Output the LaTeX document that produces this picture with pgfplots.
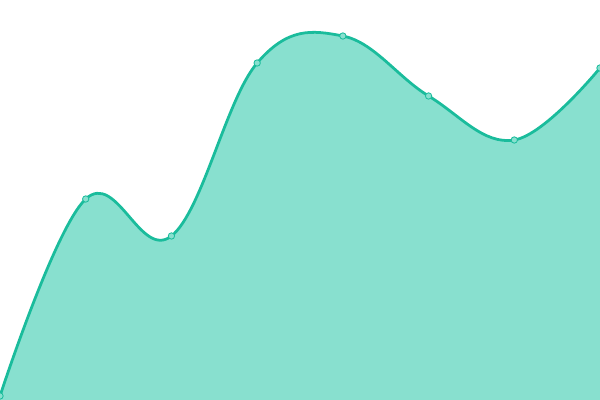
\documentclass[border=0pt]{standalone}
\usepackage{pgfplots}
\pgfplotsset{compat=1.18}
\definecolor{linec}{HTML}{1ABC9C}
\definecolor{areac}{HTML}{88E0CF}
\begin{document}
\begin{tikzpicture}
    \begin{axis}
        [
        width=6in, height=4in,
        scale only axis,
        hide axis,
        xmin=0, xmax=7,
        ymin=0, ymax=400,
        clip=true,
        clip marker paths=true,
        ]
        \addplot[fill=areac, draw=none, smooth, tension=0.65]
        coordinates {
            (0,4)(1,201)(2,164)(3,337)(4,364)(5,304)(6,260)(7,332)
        } \closedcycle;
        \addplot[
            color=linec,
            line width=2pt,
            smooth, tension=0.65,
            mark=*,
            mark size=2.3pt,
            mark options={fill=areac, draw=linec, line width=0.6pt},
        ]
        coordinates {
            (0,4)(1,201)(2,164)(3,337)(4,364)(5,304)(6,260)(7,332)
        };
    \end{axis}
    \pgfresetboundingbox
    \useasboundingbox (current axis.south west) rectangle (current axis.north east);
\end{tikzpicture}
\end{document}
